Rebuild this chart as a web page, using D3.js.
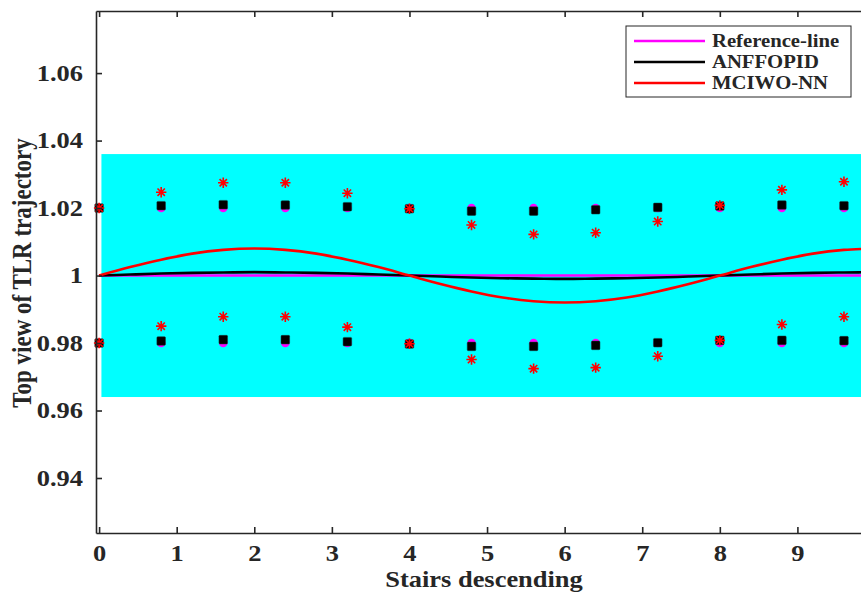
<!DOCTYPE html>
<html>
<head>
<meta charset="utf-8">
<script src="https://cdn.jsdelivr.net/npm/d3@7"></script>
<style>
  html, body { margin: 0; padding: 0; background: #fff; overflow: hidden; }
  svg { display: block; }
  text { font-family: "Liberation Serif", "Times New Roman", serif; font-weight: bold; fill: #262626; }
</style>
</head>
<body>
<svg id="chart" width="861" height="599"></svg>
<script>
// Sample positions along the stairs (markers)
const markerX = [0, 0.8, 1.6, 2.4, 3.2, 4.0, 4.8, 5.6, 6.4, 7.2, 8.0, 8.8, 9.6];

// Reference targets (upper and lower edge)
const refUpper = [1.02, 1.02, 1.02, 1.02, 1.02, 1.02, 1.02, 1.02, 1.02, 1.02, 1.02, 1.02, 1.02];
const refLower = [0.98, 0.98, 0.98, 0.98, 0.98, 0.98, 0.98, 0.98, 0.98, 0.98, 0.98, 0.98, 0.98];

// ANFFOPID markers
const anfUpper = [1.0200, 1.0207, 1.0210, 1.0209, 1.0204, 1.0198, 1.0191, 1.0191, 1.0195, 1.0202, 1.0206, 1.0209, 1.0207];
const anfLower = [0.9800, 0.9806, 0.9810, 0.9810, 0.9804, 0.9797, 0.9790, 0.9790, 0.9793, 0.9801, 0.9808, 0.9808, 0.9807];

// MCIWO-NN markers
const mciUpper = [1.0200, 1.0247, 1.0275, 1.0275, 1.0244, 1.0198, 1.0150, 1.0122, 1.0127, 1.0160, 1.0208, 1.0254, 1.0278];
const mciLower = [0.9800, 0.9850, 0.9878, 0.9878, 0.9847, 0.9798, 0.9751, 0.9724, 0.9727, 0.9761, 0.9808, 0.9855, 0.9878];

// Continuous trajectories
const curveX   = [0, 0.4, 0.8, 1.2, 1.6, 2.0, 2.4, 2.8, 3.2, 3.6, 4.0, 4.4, 4.8, 5.2, 5.6, 6.0, 6.4, 6.8, 7.2, 7.6, 8.0, 8.4, 8.8, 9.2, 9.6, 10.0];
const refLine  = [1, 1, 1, 1, 1, 1, 1, 1, 1, 1, 1, 1, 1, 1, 1, 1, 1, 1, 1, 1, 1, 1, 1, 1, 1, 1];
const anfLine  = [1.0000, 1.0003, 1.0006, 1.0008, 1.0009, 1.0010, 1.0009, 1.0008, 1.0006, 1.0003, 1.0000,
                  0.9997, 0.9994, 0.9992, 0.9991, 0.9990, 0.9991, 0.9992, 0.9994, 0.9997, 1.0000,
                  1.0003, 1.0006, 1.0008, 1.0009, 1.0010];
const mciLine  = [1.0000, 1.0025, 1.0047, 1.0065, 1.0076, 1.0080, 1.0076, 1.0065, 1.0047, 1.0025, 1.0000,
                  0.9975, 0.9953, 0.9935, 0.9924, 0.9920, 0.9924, 0.9935, 0.9953, 0.9975, 1.0000,
                  1.0025, 1.0047, 1.0065, 1.0076, 1.0080];

// Tolerance band
const bandX = [0.03, 10];
const bandY = [0.964, 1.036];

// Axis ticks
const xTicks = [0, 1, 2, 3, 4, 5, 6, 7, 8, 9];
const yTicks = [0.94, 0.96, 0.98, 1.00, 1.02, 1.04, 1.06];

const seriesNames  = ["Reference-line", "ANFFOPID", "MCIWO-NN"];
const seriesColors = ["#ff00ff", "#000000", "#ff0000"];

const svg = d3.select("#chart");
const plotLeft = 96, plotRight = 875, plotTop = 11, plotBottom = 533;
const stretch = 1.15;   // horizontal widening of the bold serif lettering

const x = d3.scaleLinear().domain([-0.04, 10]).range([plotLeft, plotRight]);
const y = d3.scaleLinear().domain([0.9237, 1.0784]).range([plotBottom, plotTop]);

const axisColor = "#262626";

// Band
svg.append("rect")
  .attr("x", x(bandX[0])).attr("width", x(bandX[1]) - x(bandX[0]))
  .attr("y", y(bandY[1])).attr("height", y(bandY[0]) - y(bandY[1]))
  .attr("fill", "#00ffff");

// Lines
const line = d3.line().x((d, i) => x(curveX[i])).y(d => y(d)).curve(d3.curveMonotoneX);
[refLine, anfLine, mciLine].forEach((vals, k) => {
  svg.append("path").datum(vals)
    .attr("d", line)
    .attr("fill", "none")
    .attr("stroke", seriesColors[k])
    .attr("stroke-width", 2.6);
});

// Reference markers: circles
[refUpper, refLower].forEach(vals => {
  svg.append("g").selectAll("circle").data(vals).join("circle")
    .attr("cx", (d, i) => x(markerX[i])).attr("cy", d => y(d))
    .attr("r", 4.3).attr("fill", "#ff00ff");
});

// ANFFOPID markers: squares
[anfUpper, anfLower].forEach(vals => {
  svg.append("g").selectAll("rect").data(vals).join("rect")
    .attr("x", (d, i) => x(markerX[i]) - 4.3).attr("y", d => y(d) - 4.3)
    .attr("width", 8.6).attr("height", 8.6).attr("rx", 1)
    .attr("fill", "#000").attr("stroke", "#1a3a3a").attr("stroke-width", 0.5);
});

// MCIWO-NN markers: asterisks
const starPath = (() => {
  const r = 5.2, a = r * Math.SQRT1_2;
  return `M${-r},0L${r},0M0,${-r}L0,${r}M${-a},${-a}L${a},${a}M${-a},${a}L${a},${-a}`;
})();
[mciUpper, mciLower].forEach(vals => {
  svg.append("g").selectAll("path").data(vals).join("path")
    .attr("transform", (d, i) => `translate(${x(markerX[i])},${y(d)})`)
    .attr("d", starPath)
    .attr("stroke", "#ff0000").attr("stroke-width", 1.6).attr("fill", "none");
});

// Axes (box)
const xAxisB = d3.axisBottom(x).tickValues(xTicks).tickSize(-6).tickSizeOuter(0).tickPadding(12).tickFormat(d3.format("d"));
const xAxisT = d3.axisTop(x).tickValues(xTicks).tickSize(-6).tickSizeOuter(0).tickFormat("");
const yAxisL = d3.axisLeft(y).tickValues(yTicks).tickSize(-6).tickSizeOuter(0).tickPadding(13)
  .tickFormat(d => d === 1 ? "1" : d3.format(".2f")(d));

// Widen a text element horizontally about its anchor point
function widen(sel) {
  sel.each(function() {
    const t = d3.select(this);
    const tx = +t.attr("x") || 0;
    t.attr("x", 0).attr("transform", `translate(${tx},0) scale(${stretch},1)`);
  });
}

function styleAxis(g) {
  g.select(".domain").attr("stroke", axisColor).attr("stroke-width", 1.6);
  g.selectAll(".tick line").attr("stroke", axisColor).attr("stroke-width", 1.6);
  g.selectAll(".tick text").attr("fill", axisColor)
    .style("font-family", '"Liberation Serif", serif').style("font-weight", "bold").style("font-size", "23px")
    .call(widen);
}
svg.append("g").attr("transform", `translate(0,${plotBottom})`).call(xAxisB).call(styleAxis);
svg.append("g").attr("transform", `translate(0,${plotTop})`).call(xAxisT).call(styleAxis);
svg.append("g").attr("transform", `translate(${plotLeft},0)`).call(yAxisL).call(styleAxis);

// Axis titles
svg.append("text")
  .attr("transform", `translate(484,587) scale(${stretch},1)`)
  .attr("text-anchor", "middle")
  .style("font-size", "23px")
  .text("Stairs descending");
svg.append("text")
  .attr("transform", `translate(31,273) rotate(-90) scale(1,${stretch})`)
  .attr("text-anchor", "middle")
  .style("font-size", "23px")
  .text("Top view of TLR trajectory");

// Legend
const legend = svg.append("g");
legend.append("rect")
  .attr("x", 626).attr("y", 26).attr("width", 225).attr("height", 71)
  .attr("fill", "#fff").attr("stroke", axisColor).attr("stroke-width", 1);
seriesNames.forEach((name, i) => {
  const ly = 41 + i * 21;
  legend.append("line")
    .attr("x1", 634).attr("x2", 705).attr("y1", ly).attr("y2", ly)
    .attr("stroke", seriesColors[i]).attr("stroke-width", 2.6);
  legend.append("text")
    .attr("transform", `translate(712,${ly + 6}) scale(${stretch},1)`)
    .style("font-size", "18px")
    .text(name);
});
</script>
</body>
</html>
